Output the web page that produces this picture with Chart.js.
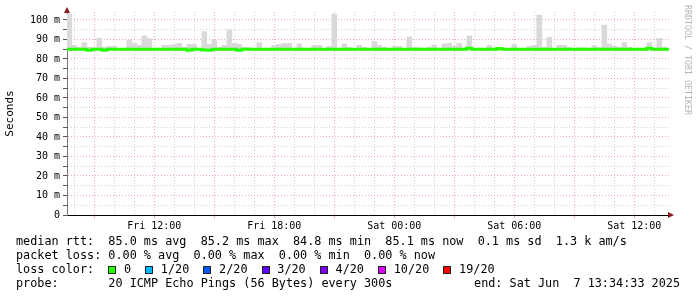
<!DOCTYPE html>
<html>
<head>
<meta charset="utf-8">
<script src="https://cdn.jsdelivr.net/npm/chart.js@4.4.1/dist/chart.umd.min.js"></script>
<style>
  html, body { margin: 0; padding: 0; background: #fff; }
  #wrap { position: relative; width: 697px; height: 297px; overflow: hidden; background: #fff; }
  #chart { position: absolute; left: 0; top: 0; }
  .legend { position: absolute; left: 16px; top: 234px; width: 664px;
    font: 11.8px/14px "DejaVu Sans Mono", monospace; color: #000; white-space: pre; }
  .legend .line { position: relative; height: 14px; }
  .legend .end { position: absolute; right: 0; top: 0; }
  .sw { display: inline-block; width: 8px; height: 8px; margin-right: 0.5px;
    border: 1px solid #222; box-sizing: border-box; vertical-align: -1px; }
  .mark { position: absolute; left: 683px; top: 5px; writing-mode: vertical-rl;
    font: 8.3px "DejaVu Sans Mono", monospace; color: #b4b4b4; white-space: pre; }
</style>
</head>
<body>
<div id="wrap">
  <canvas id="chart" width="697" height="297"></canvas>
  <div class="legend" id="legend"></div>
  <div class="mark">RRDTOOL / TOBI OETIKER</div>
</div>
<script>
// time window in hours counted from Fri 00:00
const X_MIN = 7.635;
const X_MAX = 37.735;
const FIRST_BIN = 7.75;   // 07:45, bins of 15 min
const BIN_HOURS = 0.25;

const X_TICK_HOURS = [12, 18, 24, 30, 36];
const X_TICK_LABELS = ["Fri 12:00", "Fri 18:00", "Sat 00:00", "Sat 06:00", "Sat 12:00"];

const Y_MAX = 104.1;
const Y_TICK_VALUES = [0, 10, 20, 30, 40, 50, 60, 70, 80, 90, 100];
const Y_TICK_LABELS = ["0", "10 m", "20 m", "30 m", "40 m", "50 m", "60 m", "70 m", "80 m", "90 m", "100 m"];

// smoke: lowest rtt and highest rtt per bin (ms)
const SMOKE_LOW = 84.4;
const SMOKE_TOP = [
  103, 87, 86, 88.4, 86, 85.8, 90.6, 86, 86.5, 86.5,
  85.5, 85.5, 89.7, 88, 87, 91.8, 90.5, 85.5, 85.5, 87,
  87, 87.5, 88, 86, 87.5, 87.5, 85.5, 94, 87.5, 89.7,
  86, 87, 95, 88, 87.5, 86, 85.8, 85.5, 88.4, 85.5,
  85.5, 87, 87.5, 88, 88, 85.5, 87.7, 85.5, 85.5, 87,
  87, 85.5, 86.5, 103, 85.5, 87.7, 86, 85.5, 87, 86,
  85.5, 88.9, 87, 86, 85.5, 86.5, 86.5, 85.5, 91.4, 86,
  85.8, 85.5, 86, 87.2, 85.5, 87.7, 88, 86.5, 88, 85.5,
  91.8, 85.5, 85.5, 85.5, 87, 85.5, 86, 85.5, 85.5, 87.5,
  85.5, 85.5, 86.5, 87, 102.5, 86, 91.1, 85.5, 87, 87,
  86, 85.5, 85.8, 85.8, 85.5, 86.8, 86, 97.4, 87.7, 86.5,
  86, 88.4, 86, 85.5, 85.5, 85.5, 88.4, 85.5, 90.6, 86
];

// median rtt per bin (ms)
const MEDIAN = [
  85, 85, 85, 85, 84.5, 85, 85, 84.5, 85, 85,
  85, 85, 85, 85, 85, 85, 85, 85, 85, 85,
  85, 85, 85, 85, 84.5, 85, 85, 84.6, 84.5, 85,
  85, 85, 85, 85, 84.5, 85, 85, 85, 85, 85,
  85, 85, 85, 85, 85, 85, 85, 85, 85, 85,
  85, 85, 85, 85, 85, 85, 85, 85, 85, 85,
  85, 85, 85, 85, 85, 85, 85, 85, 85, 85,
  85, 85, 85, 85, 85, 85, 85, 85, 85, 85,
  85.5, 85, 85, 85, 85, 85, 85.4, 85, 85, 85,
  85, 85, 85, 85, 85, 85, 85, 85, 85, 85,
  85, 85, 85, 85, 85, 85, 85, 85, 85, 85,
  85, 85, 85, 85, 85, 85, 85.5, 85, 85, 85
];

const RTT_STATS = ["85.0 ms avg", "85.2 ms max", "84.8 ms min", "85.1 ms now", "0.1 ms sd", "1.3 k am/s"];
const LOSS_STATS = ["0.00 % avg", "0.00 % max", "0.00 % min", "0.00 % now"];
const LOSS_LABELS = ["0", "1/20", "2/20", "3/20", "4/20", "10/20", "19/20"];
const LOSS_COLORS = ["#26ff00", "#00b8ff", "#0059ff", "#5e00ff", "#7e00ff", "#dd00ff", "#ff0000"];
const PROBE_TEXT = "20 ICMP Echo Pings (56 Bytes) every 300s";
const END_TEXT = "end: Sat Jun  7 13:34:33 2025";

const MONO = "DejaVu Sans Mono";
const MAJOR_GRID = "rgba(225, 90, 90, 0.5)";
const MINOR_GRID = "rgba(150, 150, 150, 0.45)";
const NONE = "rgba(0,0,0,0)";

const binTimes = SMOKE_TOP.map((_, i) => FIRST_BIN + i * BIN_HOURS);
const smokeData = SMOKE_TOP.map((top, i) => ({ x: binTimes[i], y: [SMOKE_LOW, top] }));
const medianData = [{ x: X_MIN, y: MEDIAN[0] }]
  .concat(MEDIAN.map((v, i) => ({ x: binTimes[i], y: v })))
  .concat([{ x: X_MAX, y: MEDIAN[MEDIAN.length - 1] }]);

const xGridHours = [];
for (let h = Math.ceil(X_MIN); h <= Math.floor(X_MAX); h++) xGridHours.push(h);
const yGridValues = [];
for (let v = 0; v <= 100; v += 5) yGridValues.push(v);

// axis arrows like rrdtool
const arrows = {
  id: "arrows",
  afterDraw(chart) {
    const { ctx, chartArea: a } = chart;
    ctx.save();
    ctx.fillStyle = "#8b1c1c";
    ctx.beginPath();
    ctx.moveTo(a.left, a.top - 5);
    ctx.lineTo(a.left - 3, a.top + 1);
    ctx.lineTo(a.left + 3, a.top + 1);
    ctx.closePath();
    ctx.fill();
    ctx.beginPath();
    ctx.moveTo(a.right + 5, a.bottom);
    ctx.lineTo(a.right - 1, a.bottom - 3);
    ctx.lineTo(a.right - 1, a.bottom + 3);
    ctx.closePath();
    ctx.fill();
    ctx.restore();
  }
};

new Chart(document.getElementById("chart"), {
  type: "line",
  data: {
    datasets: [
      {
        type: "line",
        data: medianData,
        borderColor: LOSS_COLORS[0],
        borderWidth: 3,
        stepped: "middle",
        pointRadius: 0,
        order: 0
      },
      {
        type: "bar",
        data: smokeData,
        backgroundColor: "#d9d9d9",
        borderWidth: 0,
        barPercentage: 1,
        categoryPercentage: 1,
        order: 1
      }
    ]
  },
  options: {
    responsive: false,
    animation: false,
    events: [],
    layout: { padding: { top: 12, right: 28, bottom: 60, left: 0 } },
    plugins: { legend: { display: false }, tooltip: { enabled: false } },
    scales: {
      x: {
        type: "linear",
        min: X_MIN,
        max: X_MAX,
        bounds: "data",
        offset: false,
        afterBuildTicks: s => { s.ticks = xGridHours.map(v => ({ value: v })); },
        afterFit: s => { s.height = 22; },
        grid: {
          offset: false,
          color: c => c.tick ? (c.tick.value % 3 === 0 ? MAJOR_GRID : MINOR_GRID) : NONE,
          tickColor: c => c.tick && c.tick.value % 3 === 0 ? MAJOR_GRID : NONE,
          tickLength: 3
        },
        border: { color: "#000", width: 1, dash: [1, 2] },
        ticks: {
          autoSkip: false,
          maxRotation: 0,
          padding: 2,
          color: "#000",
          font: { family: MONO, size: 10 },
          callback: v => {
            const i = X_TICK_HOURS.indexOf(v);
            return i >= 0 ? X_TICK_LABELS[i] : "";
          }
        }
      },
      y: {
        min: 0,
        max: Y_MAX,
        bounds: "data",
        afterBuildTicks: s => { s.ticks = yGridValues.map(v => ({ value: v })); },
        afterFit: s => { s.width = 67; },
        grid: {
          color: c => c.tick ? (c.tick.value % 10 === 0 ? MAJOR_GRID : MINOR_GRID) : NONE,
          tickColor: "#555",
          tickLength: 4
        },
        border: { color: "#777", width: 1, dash: [1, 2] },
        ticks: {
          autoSkip: false,
          padding: 3,
          color: "#000",
          font: { family: MONO, size: 10 },
          callback: v => {
            const i = Y_TICK_VALUES.indexOf(v);
            return i >= 0 ? Y_TICK_LABELS[i] : "";
          }
        },
        title: {
          display: true,
          text: "Seconds",
          color: "#000",
          font: { family: MONO, size: 11 },
          padding: { top: 4, bottom: 0 }
        }
      }
    }
  },
  plugins: [arrows]
});

// legend lines under the graph
const legend = document.getElementById("legend");
function addLine(html, endText) {
  const d = document.createElement("div");
  d.className = "line";
  d.innerHTML = html;
  if (endText) {
    const e = document.createElement("span");
    e.className = "end";
    e.textContent = endText;
    d.appendChild(e);
  }
  legend.appendChild(d);
}
addLine("median rtt:  " + RTT_STATS.join("  "));
addLine("packet loss: " + LOSS_STATS.join("  "));
addLine("loss color:  " + LOSS_LABELS.map((l, i) =>
  '<span class="sw" style="background:' + LOSS_COLORS[i] + '"></span> ' + l).join("  "));
addLine("probe:       " + PROBE_TEXT, END_TEXT);
</script>
</body>
</html>
